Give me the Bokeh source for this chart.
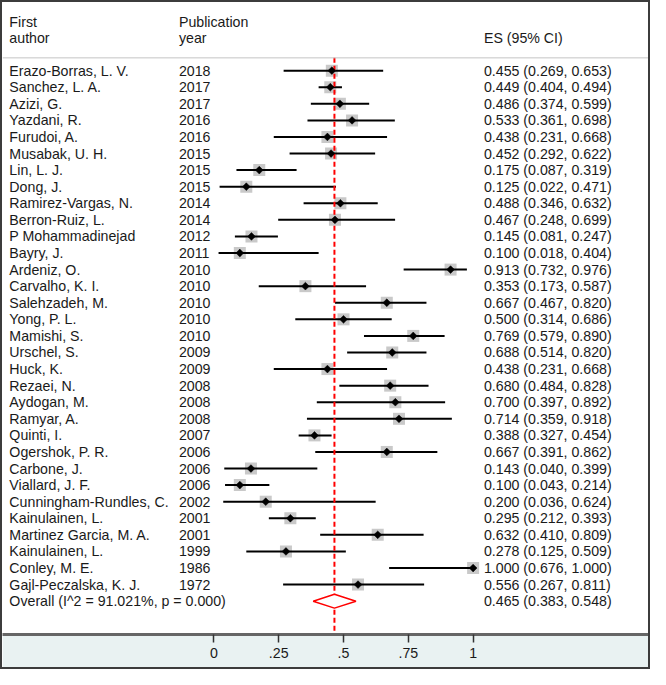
from bokeh.plotting import figure
from bokeh.models import Range1d, LinearAxis, FixedTicker, ColumnDataSource, Span
from bokeh.core.properties import value
from bokeh.embed import file_html
from bokeh.resources import INLINE

authors = ["Erazo-Borras, L. V.", "Sanchez, L. A.", "Azizi, G.", "Yazdani, R.", "Furudoi, A.",
           "Musabak, U. H.", "Lin, L. J.", "Dong, J.", "Ramirez-Vargas, N.", "Berron-Ruiz, L.",
           "P Mohammadinejad", "Bayry, J.", "Ardeniz, O.", "Carvalho, K. I.", "Salehzadeh, M.",
           "Yong, P. L.", "Mamishi, S.", "Urschel, S.", "Huck, K.", "Rezaei, N.", "Aydogan, M.",
           "Ramyar, A.", "Quinti, I.", "Ogershok, P. R.", "Carbone, J.", "Viallard, J. F.",
           "Cunningham-Rundles, C.", "Kainulainen, L.", "Martinez Garcia, M. A.", "Kainulainen, L.",
           "Conley, M. E.", "Gajl-Peczalska, K. J."]
years = ["2018", "2017", "2017", "2016", "2016", "2015", "2015", "2015", "2014", "2014",
         "2012", "2011", "2010", "2010", "2010", "2010", "2010", "2009", "2009", "2008", "2008",
         "2008", "2007", "2006", "2006", "2006", "2002", "2001", "2001", "1999", "1986", "1972"]
es = [0.455, 0.449, 0.486, 0.533, 0.438, 0.452, 0.175, 0.125, 0.488, 0.467,
      0.145, 0.100, 0.913, 0.353, 0.667, 0.500, 0.769, 0.688, 0.438, 0.680, 0.700,
      0.714, 0.388, 0.667, 0.143, 0.100, 0.200, 0.295, 0.632, 0.278, 1.000, 0.556]
lo = [0.269, 0.404, 0.374, 0.361, 0.231, 0.292, 0.087, 0.022, 0.346, 0.248,
      0.081, 0.018, 0.732, 0.173, 0.467, 0.314, 0.579, 0.514, 0.231, 0.484, 0.397,
      0.359, 0.327, 0.391, 0.040, 0.043, 0.036, 0.212, 0.410, 0.125, 0.676, 0.267]
hi = [0.653, 0.494, 0.599, 0.698, 0.668, 0.622, 0.319, 0.471, 0.632, 0.699,
      0.247, 0.404, 0.976, 0.587, 0.820, 0.686, 0.890, 0.820, 0.668, 0.828, 0.892,
      0.918, 0.454, 0.862, 0.399, 0.214, 0.624, 0.393, 0.809, 0.509, 1.000, 0.811]
overall_label = "Overall  (I^2 = 91.021%, p = 0.000)"
overall_es, overall_lo, overall_hi = 0.465, 0.383, 0.548
tick_values = [0, 0.25, 0.5, 0.75, 1]
tick_labels = ["0", ".25", ".5", ".75", "1"]

n = len(es)
rows = list(range(n))
ov_row = n
es_text = ["%.3f (%.3f, %.3f)" % (e, l, h) for e, l, h in zip(es, lo, hi)]
ov_text = "%.3f (%.3f, %.3f)" % (overall_es, overall_lo, overall_hi)

X0, X1 = -0.8155, 1.692
p = figure(width=650, height=669, x_range=Range1d(X0, X1), y_range=Range1d(34.01, -4.11),
           output_backend="svg", toolbar_location=None, x_axis_type=None, y_axis_type=None,
           min_border_left=0, min_border_right=0, min_border_top=0, min_border_bottom=37)
p.styles = {"border": "2px solid #3c3c3c"}
p.outline_line_color = None
p.background_fill_color = "white"
p.border_fill_color = "#e9f2f2"

fs = "14.2px"
ax = LinearAxis(ticker=FixedTicker(ticks=tick_values),
                major_label_overrides={v: t for v, t in zip(tick_values, tick_labels)})
ax.axis_line_color = "#666666"
ax.axis_line_width = 3
ax.major_tick_line_color = "#333333"
ax.major_tick_line_width = 1.5
ax.major_tick_out = 8
ax.major_tick_in = 0
ax.minor_tick_out = 0
ax.minor_tick_in = 0
ax.major_label_standoff = 5
ax.major_label_text_font = "Liberation Sans"
ax.major_label_text_font_size = fs
ax.major_label_text_color = "#1a1a1a"
p.add_layout(ax, "below")

font = value("Liberation Sans")
tc = "#1a1a1a"
xa, xy, xe = -0.789, -0.1348, 1.0417

# header
p.text(x=[xa, xa, xy, xy], y=[-2.94, -1.97, -2.94, -1.97],
       text=["First", "author", "Publication", "year"],
       text_font=font, text_font_size=fs, text_color=tc, text_baseline="middle")
p.text(x=[xe], y=[-1.97], text=["ES (95% CI)"],
       text_font=font, text_font_size=fs, text_color=tc, text_baseline="middle")
p.add_layout(Span(location=-0.77, dimension="width", line_color="#c4c4c4", line_width=1))

src = ColumnDataSource(dict(author=authors, year=years, es=es, lo=lo, hi=hi, row=rows, est=es_text))
p.text(x=xa, y="row", text="author", source=src, text_font=font, text_font_size=fs,
       text_color=tc, text_baseline="middle")
p.text(x=xy, y="row", text="year", source=src, text_font=font, text_font_size=fs,
       text_color=tc, text_baseline="middle")
p.text(x=xe, y="row", text="est", source=src, text_font=font, text_font_size=fs,
       text_color=tc, text_baseline="middle")

p.scatter(x="es", y="row", source=src, marker="square", size=12, fill_color="#c9c9c9",
          line_color=None)
p.segment(x0="lo", y0="row", x1="hi", y1="row", source=src, line_color="black", line_width=2)
p.segment(x0=[overall_es], y0=[-0.77], x1=[overall_es], y1=[34.5], line_color="red",
          line_width=2, line_dash="5 3")
p.scatter(x="es", y="row", source=src, marker="square", angle=0.7854, size=5.5,
          fill_color="black", line_color="black", line_width=0.5)

p.text(x=[xa], y=[ov_row], text=[overall_label], text_font=font, text_font_size=fs,
       text_color=tc, text_baseline="middle")
p.text(x=[xe], y=[ov_row], text=[ov_text], text_font=font, text_font_size=fs,
       text_color=tc, text_baseline="middle")
p.patch(x=[overall_lo, overall_es, overall_hi, overall_es, overall_lo],
        y=[ov_row, ov_row - 0.42, ov_row, ov_row + 0.42, ov_row],
        fill_color="white", line_color="red", line_width=1.5)

open("out.html", "w").write(file_html(p, INLINE))
